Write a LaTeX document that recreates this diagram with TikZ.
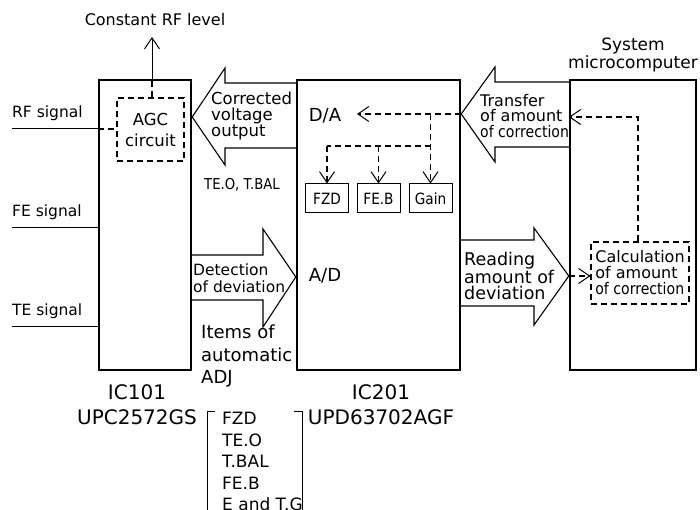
\documentclass[tikz,border=0pt]{standalone}
\usepackage{fontspec}
\setmainfont{DejaVu Sans}
\newfontfamily\narrowfont[FakeStretch=0.88]{DejaVu Sans}
\usetikzlibrary{arrows.meta}

\newcommand{\fsz}[2]{\fontsize{#1}{#2}\selectfont}

\begin{document}
\begin{tikzpicture}[x=1pt,y=-1pt,
  chip/.style={draw,line width=2.4pt,minimum height=290pt,inner sep=0pt},
  dashbox/.style={draw,line width=1.1pt,dash pattern=on 6pt off 4pt,inner sep=0pt},
  regbox/.style={draw,line width=1pt,minimum width=43pt,minimum height=29pt,inner sep=0pt,font=\narrowfont\fsz{15.5}{16}},
  dashline/.style={line width=1.1pt,dash pattern=on 6pt off 4pt},
  barb/.style={-{Straight Barb[length=11pt,width=15pt,line width=1pt]}},
  hollow/.style={line width=1.1pt,line join=miter},
  lbl/.style={inner sep=0pt,font=\fsz{15.5}{16}}
]
\useasboundingbox (0,0) rectangle (700,510);
\clip (0,0) rectangle (700,510);

\node[chip,minimum width=92pt] (ic101) at (145,225) {};
\node[chip,minimum width=163pt] (ic201) at (378.5,225) {};
\node[chip,minimum width=126pt] (micro) at (633,225) {};

\node[dashbox,minimum width=67pt,minimum height=63pt,align=center,font=\fsz{16.5}{21}] (agc) at (150.5,129.5) {AGC\\circuit};
\node[dashbox,minimum width=98pt,minimum height=62pt,align=left,font=\fsz{16}{16}] (calc) at (640,273) {Calculation\\of amount\\{\narrowfont of correction}};

\node[regbox] (fzd) at (327,198.5) {FZD};
\node[regbox] (feb) at (378.5,198.5) {FE.B};
\node[regbox] (gain) at (430.5,198.5) {Gain};

\node[lbl,font=\fsz{16}{16}] (rflevel) at (155,20) {Constant RF level};
\coordinate (rftip) at (152,37);
\draw[dashline] (agc.north -| rftip) -- (ic101.north -| rftip);
\draw[line width=1pt,barb] (ic101.north -| rftip) -- (rftip);

\node[lbl,anchor=west] (rfsig) at (12,113) {RF signal};
\node[lbl,anchor=west] (fesig) at (12,212) {FE signal};
\node[lbl,anchor=west] (tesig) at (12,311) {TE signal};
\coordinate (rfin) at (12,129);
\coordinate (fein) at (12,228);
\coordinate (tein) at (12,326);
\draw[line width=1pt] (rfin) -- (ic101.west |- rfin);
\draw[dashline] (ic101.west |- rfin) -- (agc.west |- rfin);
\draw[line width=1pt] (fein) -- (ic101.west |- fein);
\draw[line width=1pt] (tein) -- (ic101.west |- tein);

\draw[hollow] (ic201.west |- 0,83) -- (225,83) -- (225,68) -- (ic101.east |- 0,117) -- (225,165) -- (225,148) -- (ic201.west |- 0,148);
\draw[hollow] (micro.west |- 0,82) -- (495,82) -- (495,67) -- (ic201.east |- 0,114) -- (495,162) -- (495,147) -- (micro.west |- 0,147);
\draw[hollow] (ic101.east |- 0,255) -- (263,255) -- (263,229) -- (ic201.west |- 0,277) -- (263,327) -- (263,300) -- (ic101.east |- 0,300);
\draw[hollow] (ic201.east |- 0,240) -- (534,240) -- (534,228) -- (micro.west |- 0,276) -- (534,325) -- (534,306) -- (ic201.east |- 0,306);

\node[lbl,anchor=west,align=left,font=\fsz{16.5}{16}] (corr) at (211,116) {Corrected\\voltage\\output};
\node[lbl,anchor=west,align=left,font=\fsz{16}{15.5}] (xfer) at (480,116) {Transfer\\of amount\\{\narrowfont of correction}};
\node[lbl,anchor=west,align=left,font=\fsz{15.5}{17}] (detect) at (193,278) {Detection\\of deviation};
\node[lbl,anchor=west,align=left,font=\fsz{17.5}{16}] (reading) at (464,276) {Reading\\amount of\\deviation};
\node[lbl,anchor=west,font=\narrowfont\fsz{15}{16}] (tebal) at (204,185) {TE.O, T.BAL};

\node[lbl,font=\fsz{18}{18}] (da) at (325,116) {D/A};
\node[lbl,font=\fsz{18}{18}] (ad) at (325,276) {A/D};
\coordinate (datip) at (357,114);
\coordinate (split) at (378.5,146);
\draw[dashline,barb] (ic201.east |- datip) -- (datip);
\draw[dashline,barb] (gain.north |- datip) -- (gain.north);
\draw[dashline] (gain.north |- split) -- (fzd.north |- split);
\draw[dashline,barb] (fzd.north |- split) -- (fzd.north);
\draw[dashline,barb] (split) -- (feb.north);

\coordinate (fb) at (638,117);
\draw[dashline,barb] (calc.north -| fb) -- (fb) -- (micro.west |- fb);
\draw[dashline,barb] (micro.west |- 0,276) -- (calc.west |- 0,276);

\node[lbl,align=center,font=\fsz{17}{16}] (microlbl) at (633,55) {System\\microcomputer};
\node[lbl,anchor=west,align=left,font=\fsz{18}{22.5}] (items) at (201,356) {Items of\\automatic\\ADJ};
\node[lbl,align=center,font=\fsz{20}{25}] (ic101lbl) at (137,405) {IC101\\UPC2572GS};
\node[lbl,align=center,font=\fsz{20}{25}] (ic201lbl) at (381,405) {IC201\\UPD63702AGF};

\node[lbl,anchor=north west,align=left,font=\fsz{17}{21.5}] (adjlist) at (222,412) {FZD\\TE.O\\T.BAL\\FE.B\\E and T.G};
\draw[line width=1pt] (215,411) -- (207,411) -- (207,515);
\draw[line width=1pt] (294,411) -- (302,411) -- (302,515);
\end{tikzpicture}
\end{document}
